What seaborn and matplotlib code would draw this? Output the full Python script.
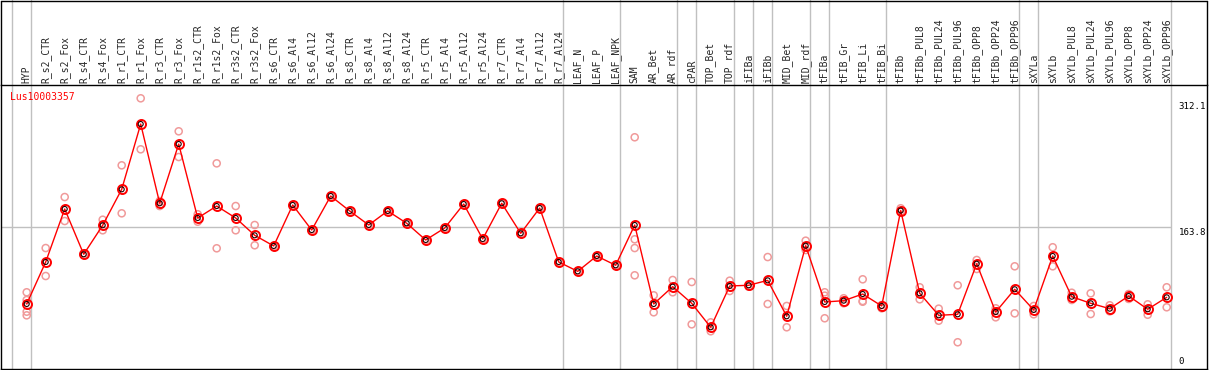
import matplotlib
matplotlib.use("Agg")
import matplotlib.pyplot as plt
from matplotlib.lines import Line2D
import seaborn as sns
import pandas as pd
import numpy as np

samples = ["HYP", "R_s2_CTR", "R_s2_Fox", "R_s4_CTR", "R_s4_Fox", "R_r1_CTR", "R_r1_Fox",
           "R_r3_CTR", "R_r3_Fox", "R_r1s2_CTR", "R_r1s2_Fox", "R_r3s2_CTR", "R_r3s2_Fox",
           "R_s6_CTR", "R_s6_Al4", "R_s6_Al12", "R_s6_Al24", "R_s8_CTR", "R_s8_Al4",
           "R_s8_Al12", "R_s8_Al24", "R_r5_CTR", "R_r5_Al4", "R_r5_Al12", "R_r5_Al24",
           "R_r7_CTR", "R_r7_Al4", "R_r7_Al12", "R_r7_Al24", "LEAF_N", "LEAF_P", "LEAF_NPK",
           "SAM", "AR_Bet", "AR_rdf", "cPAR", "TOP_Bet", "TOP_rdf", "iFIBa", "iFIBb",
           "MID_Bet", "MID_rdf", "tFIBa", "tFIB_Gr", "tFIB_Li", "tFIB_Bi", "tFIBb",
           "tFIBb_PUL8", "tFIBb_PUL24", "tFIBb_PUL96", "tFIBb_OPP8", "tFIBb_OPP24",
           "tFIBb_OPP96", "sXYLa", "sXYLb", "sXYLb_PUL8", "sXYLb_PUL24", "sXYLb_PUL96",
           "sXYLb_OPP8", "sXYLb_OPP24", "sXYLb_OPP96"]

means = [74.5, 123.0, 184.2, 131.9, 165.4, 206.9, 282.3, 190.8, 259.2, 173.8, 187.6,
         173.8, 153.8, 141.5, 188.8, 159.9, 199.2, 181.9, 165.7, 181.9, 167.7, 148.4,
         162.2, 189.9, 149.5, 190.8, 156.1, 185.3, 123.0, 112.2, 129.9, 119.2, 165.7,
         74.5, 94.5, 75.3, 47.6, 95.3, 96.1, 101.8, 60.3, 141.8, 76.8, 78.3, 86.0, 72.2,
         182.4, 86.8, 61.4, 62.6, 121.0, 65.2, 91.5, 67.6, 129.9, 82.9, 75.3, 69.1, 83.7,
         68.4, 82.2]

replicates = [
    [88.0, 79.1, 65.6, 61.4], [139.1, 106.8], [198.0, 170.3], [133.0, 131.0],
    [171.8, 159.6], [234.6, 179.2], [312.0, 253.1], [193.4, 187.6], [273.9, 244.2],
    [178.1, 169.5], [236.9, 138.8], [187.6, 159.6], [165.7, 142.3],
    [141.5], [188.8], [159.9], [199.2], [181.9], [165.7], [181.9], [167.7], [148.4],
    [162.2], [189.9], [149.5], [190.8], [156.1], [185.3], [123.0], [112.2], [129.9],
    [119.2],
    [267.0, 149.2, 139.1, 107.6], [84.5, 64.9], [102.2, 88.0], [99.9, 51.0],
    [53.3, 43.0], [101.4, 89.5], [97.0, 94.5], [128.7, 74.5], [72.2, 47.6],
    [147.6, 136.8], [88.0, 84.1, 58.0], [81.1, 75.3], [103.0, 77.9, 77.1],
    [73.3, 69.5], [185.0, 181.1], [93.8, 79.9], [69.1, 55.2], [96.1, 30.3],
    [125.3, 114.9], [69.5, 59.1], [118.0, 63.7], [72.2, 62.6], [140.0, 118.0],
    [87.5, 79.1], [86.8, 62.9], [73.0, 66.0], [86.0, 80.3], [74.1, 62.1], [93.8, 70.7]]

separators_after = [-1, 0, 28, 31, 34, 35, 37, 38, 39, 41, 42, 45, 52, 53, 60]
gene = "Lus10003357"
scale_labels = ["312.1", "163.8", "0"]
scale_values = [312.1, 163.8, 0.0]

sns.set_style("white")
plt.rcParams["font.family"] = ["DejaVu Sans Mono"]

W, H = 1209, 370
fig = plt.figure(figsize=(W / 100, H / 100), dpi=100)
ax_l, ax_r, ax_t, ax_b = 0.5, 1206.5, 85.3, 368.7
ax = fig.add_axes([ax_l / W, (H - ax_b) / H, (ax_r - ax_l) / W, (ax_b - ax_t) / H])

x_idx = np.arange(len(samples))
df_mean = pd.DataFrame({"x": x_idx, "y": means})
rep_x, rep_y = [], []
for i, reps in enumerate(replicates):
    for r in reps:
        rep_x.append(i)
        rep_y.append(r)
df_rep = pd.DataFrame({"x": rep_x, "y": rep_y})

px_per_x = 19.0
x0_px = 26.7
y0_px = 368.5
px_per_y = 0.866
ax.set_xlim((ax_l - x0_px) / px_per_x, (ax_r - x0_px) / px_per_x)
ax.set_ylim((y0_px - ax_b) / px_per_y, (y0_px - ax_t) / px_per_y)

# separators
ext = ax_b / (ax_b - ax_t)
for s in separators_after:
    ax.axvline(s + 0.2, ymin=0, ymax=ext, color="#c0c0c0", lw=1.0, clip_on=False, zorder=1)
ax.hlines(scale_values[1], ax.get_xlim()[0], separators_after[-1] + 0.2,
          color="#c0c0c0", lw=1.0, zorder=1)

sns.scatterplot(data=df_rep, x="x", y="y", ax=ax, marker="o", s=26,
                facecolor="none", edgecolor="#f09a9a", linewidth=1.1, zorder=2, legend=False)
sns.lineplot(data=df_mean, x="x", y="y", ax=ax, color="#ff0000", lw=1.0, zorder=3,
             marker="o", markersize=6.5, markerfacecolor="none", markeredgecolor="#ff0000",
             markeredgewidth=1.4)
sns.scatterplot(data=df_mean, x="x", y="y", ax=ax, marker="o", s=13,
                facecolor="none", edgecolor="#200000", linewidth=0.8, zorder=4, legend=False)

ax.set_xticks(x_idx)
ax.set_xticklabels(samples, rotation=90, fontsize=7)
ax.xaxis.tick_top()
ax.tick_params(axis="x", top=True, labeltop=True, bottom=False, labelbottom=False,
               length=0, pad=2)
ax.set_yticks([])
ax.set_xlabel("")
ax.set_ylabel("")
for sp in ax.spines.values():
    sp.set_color("black")
    sp.set_linewidth(1.0)
    sp.set_visible(True)

ax.text(-0.88, 313, gene, color="#ff0000", fontsize=7, ha="left", va="center")
label_y = [302.0, 157.6, 7.9]
for lab, ly in zip(scale_labels, label_y):
    ax.text(60.63, ly, lab, color="black", fontsize=6.6, ha="left", va="center")

# outer border for label area
for (xa, ya, xb, yb) in [(0.5, 0.5, ax_r, 0.5), (0.5, 0.5, 0.5, ax_t), (ax_r, 0.5, ax_r, ax_t)]:
    fig.add_artist(Line2D([xa / W, xb / W], [1 - ya / H, 1 - yb / H], color="black", lw=1.0))

fig.savefig("out.png", dpi=100, facecolor="white")
